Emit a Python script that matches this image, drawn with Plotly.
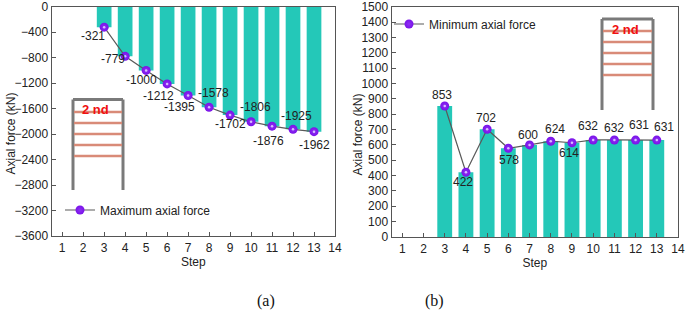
import plotly.graph_objects as go

W, H = 685, 312
steps = list(range(3, 14))
max_force = [-321, -779, -1000, -1212, -1395, -1578, -1702, -1806, -1876, -1925, -1962]
min_force = [853, 422, 702, 578, 600, 624, 614, 632, 632, 631, 631]
x_ticks = list(range(1, 15))
y_ticks_a = list(range(0, -3601, -400))
y_ticks_b = list(range(0, 1501, 100))

# label offsets in px (dx, dy; up positive)
off_a = [(-11, -9), (-12, -3), (-5, -10), (-9, -12), (-9, -11), (4, 14), (0, -9), (4, 15), (-4, -15), (3, 13), (0, -13)]
off_b = [(-3, 11), (-3, -10), (-1, 11), (1, -12), (-2, 10), (4, 12), (-3, -10), (-5, 14), (0, 12), (3, 15), (7, 13)]

TEAL = "#24C8B8"
PURPLE = "#7A12E8"
GREY = "#555555"
FONT = "Liberation Sans"
TXT = "#222222"


def px(x):
    return x / W


def py(y):
    return 1 - y / H


dom_a = ([px(51.7), px(335)], [py(236), py(6.7)])
dom_b = ([px(391.7), px(678)], [py(237), py(6.7)])

fig = go.Figure()


def add(vals, xa, ya, name, legend):
    fig.add_trace(go.Bar(x=steps, y=vals, width=0.7, marker=dict(color=TEAL, line_width=0),
                         showlegend=False, xaxis=xa, yaxis=ya))
    fig.add_trace(go.Scatter(x=steps, y=vals, name=name, mode="lines+markers", xaxis=xa, yaxis=ya,
                             line=dict(color="#5A5A5A", width=1.2), legend=legend,
                             marker=dict(size=9, color=PURPLE, line_width=0,
                                         gradient=dict(type="radial", color="#8E30F5"))))
    fig.add_trace(go.Scatter(x=steps, y=vals, mode="markers", xaxis=xa, yaxis=ya, showlegend=False,
                             marker=dict(size=2.5, color="#D8BCFF", line_width=0)))


add(max_force, "x", "y", "Maximum axial force", "legend")
add(min_force, "x2", "y2", "Minimum axial force", "legend2")

axis = dict(showgrid=False, zeroline=False, showline=True, mirror=True, linecolor=GREY, linewidth=1.3,
            ticks="inside", tickcolor=GREY, ticklen=4, tickwidth=1, automargin=False, ticklabeloverflow="allow",
            tickfont=dict(family=FONT, size=12, color=TXT), title_font=dict(family=FONT, size=12, color=TXT))

fig.update_layout(
    width=W, height=H, margin=dict(l=0, r=0, t=0, b=0, autoexpand=False), paper_bgcolor="white", plot_bgcolor="white",
    barmode="overlay",
    xaxis=dict(axis, domain=dom_a[0], range=[0.5, 14], tickvals=x_ticks, title=dict(text="Step", standoff=4)),
    yaxis=dict(axis, domain=dom_a[1], range=[-3600, 0], tickvals=y_ticks_a),
    xaxis2=dict(axis, domain=dom_b[0], range=[0.5, 14], tickvals=x_ticks, anchor="y2", title=dict(text="Step", standoff=4)),
    yaxis2=dict(axis, domain=dom_b[1], range=[0, 1500], tickvals=y_ticks_b, anchor="x2"),
    legend=dict(x=px(60), y=py(210), xanchor="left", yanchor="middle", bgcolor="rgba(0,0,0,0)",
                font=dict(family=FONT, size=12, color=TXT), itemwidth=30, tracegroupgap=0),
    legend2=dict(x=px(389), y=py(24), xanchor="left", yanchor="middle", bgcolor="rgba(0,0,0,0)",
                 font=dict(family=FONT, size=12, color=TXT), itemwidth=30, tracegroupgap=0),
)

anns = []
for s, v, (dx, dy) in zip(steps, max_force, off_a):
    anns.append(dict(x=s, y=v, xref="x", yref="y", text=str(v), showarrow=False, xshift=dx, yshift=dy,
                     font=dict(family=FONT, size=12, color=TXT)))
for s, v, (dx, dy) in zip(steps, min_force, off_b):
    anns.append(dict(x=s, y=v, xref="x2", yref="y2", text=str(v), showarrow=False, xshift=dx, yshift=dy,
                     font=dict(family=FONT, size=12, color=TXT)))

# y-axis titles
for tx, ty in [(10, 133.5), (357, 134.5)]:
    anns.append(dict(xref="paper", yref="paper", x=px(tx), y=py(ty), text="Axial force (kN)", textangle=-90, showarrow=False,
                     xanchor="center", yanchor="middle", font=dict(family=FONT, size=12, color=TXT)))

# Frame schematic insets
shapes = []


def inset(left, right, top, bottom, floors, lab_x, lab_y):
    for x0, y0, x1, y1 in [(left, bottom, left, top), (left, top, right, top), (right, top, right, bottom)]:
        shapes.append(dict(type="line", xref="paper", yref="paper", x0=px(x0), x1=px(x1), y0=py(y0), y1=py(y1),
                           line=dict(color="#7A7A7A", width=3), layer="above"))
    for f in floors:
        shapes.append(dict(type="line", xref="paper", yref="paper", x0=px(left + 1), x1=px(right - 1), y0=py(f), y1=py(f),
                           line=dict(color="#D98B78", width=2.5), layer="above"))
    anns.append(dict(xref="paper", yref="paper", x=px(lab_x), y=py(lab_y), text="<b>2 nd</b>", showarrow=False,
                     xanchor="center", yanchor="middle", font=dict(family=FONT, size=13, color="#F01010")))


inset(73, 123, 99.5, 190, [112, 123, 134, 145, 156], 95, 109)
inset(602, 653, 19, 110, [31, 42, 53, 64, 75], 625, 29)

fig.update_layout(annotations=anns + [
    dict(xref="paper", yref="paper", x=px(266), y=py(301), text="(a)", showarrow=False, xanchor="center", yanchor="middle",
         font=dict(family="Liberation Serif", size=16, color="#111111")),
    dict(xref="paper", yref="paper", x=px(434), y=py(301), text="(b)", showarrow=False, xanchor="center", yanchor="middle",
         font=dict(family="Liberation Serif", size=16, color="#111111")),
], shapes=shapes)

fig.write_html("out.html", config=dict(displayModeBar=False), post_script="document.body.style.margin='0';")
